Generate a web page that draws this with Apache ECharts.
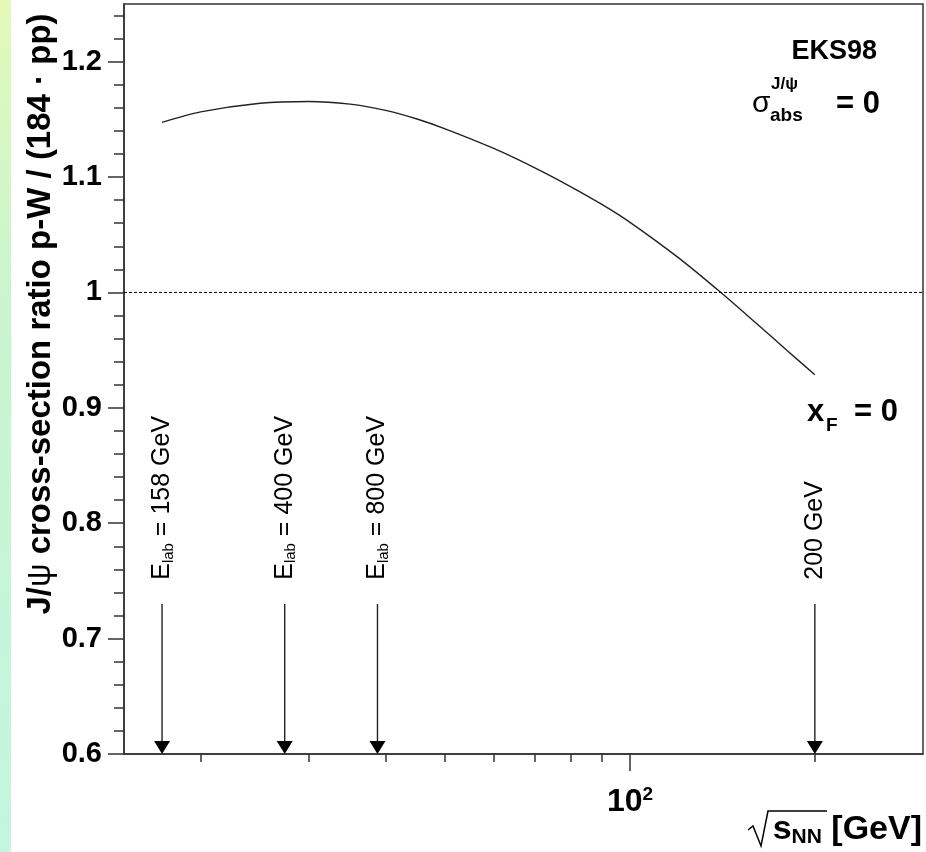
<!DOCTYPE html>
<html>
<head>
<meta charset="utf-8">
<script src="https://cdn.jsdelivr.net/npm/echarts@6/dist/echarts.min.js"></script>
<style>
  html, body { margin: 0; padding: 0; background: #fff; }
  #chart { width: 926px; height: 852px; }
</style>
</head>
<body>
<div id="chart"></div>
<script>
  // sqrt(s_NN) in GeV and the EKS98 ratio
  const curveE = [17.3, 20, 25, 30, 35, 40, 45, 50, 60, 70, 80, 90, 100, 120, 140, 160, 180, 200]
  const curveRatio = [1.1474, 1.1565, 1.1640, 1.1655, 1.1632, 1.1578, 1.1503, 1.1418, 1.1248, 1.1080,
    1.0918, 1.0763, 1.0608, 1.0300, 1.0008, 0.9740, 0.9500, 0.9286]

  // dotted reference line at ratio = 1
  const refE = [15, 300]
  const refRatio = [1, 1]

  // arrows: sqrt(s_NN) for the fixed-target beams and RHIC
  const arrowE = [17.3, 27.4, 38.8, 200]
  const arrowElab = [158, 400, 800, null]
  const arrowTop = 0.73
  const arrowLabelBase = 0.751

  const yTicks = [0.6, 0.7, 0.8, 0.9, 1.0, 1.1, 1.2]
  const yMinorTicks = [0.62, 0.64, 0.66, 0.68, 0.72, 0.74, 0.76, 0.78, 0.82, 0.84, 0.86, 0.88,
    0.92, 0.94, 0.96, 0.98, 1.02, 1.04, 1.06, 1.08, 1.12, 1.14, 1.16, 1.18, 1.22, 1.24]
  const xTicks = [100]
  const xMinorTicks = [20, 30, 40, 50, 60, 70, 80, 90, 200]

  const FONT = 'Liberation Sans, Arial, Helvetica, sans-serif'
  const AXIS = '#333'

  const chart = echarts.init(document.getElementById('chart'))

  chart.setOption({
    animation: false,
    backgroundColor: '#fff',
    textStyle: { fontFamily: FONT },
    grid: {
      left: 124,
      right: 3,
      top: 4,
      bottom: 98,
      show: true,
      borderColor: AXIS,
      borderWidth: 1.5
    },
    xAxis: [{
      type: 'log',
      logBase: 10,
      min: 15,
      max: 300,
      axisLine: { show: true, onZero: false, lineStyle: { color: AXIS, width: 1.5 } },
      axisTick: { show: true, customValues: xTicks, length: 17, lineStyle: { color: AXIS, width: 1.5 } },
      axisLabel: {
        customValues: xTicks,
        margin: 31,
        formatter: v => '{b|10}{sup|' + Math.round(Math.log10(v)) + '}',
        rich: {
          b: { fontSize: 32, fontWeight: 'bold', fontFamily: FONT, color: '#000', lineHeight: 34 },
          sup: { fontSize: 19, fontWeight: 'bold', fontFamily: FONT, color: '#000', lineHeight: 19, verticalAlign: 'top' }
        }
      },
      splitLine: { show: false }
    }, {
      type: 'log',
      logBase: 10,
      min: 15,
      max: 300,
      position: 'bottom',
      axisLine: { show: false },
      axisTick: { show: true, customValues: xMinorTicks, length: 8, lineStyle: { color: AXIS, width: 1.5 } },
      axisLabel: { show: false },
      splitLine: { show: false }
    }],
    yAxis: [{
      type: 'value',
      min: 0.6,
      max: 1.25,
      axisLine: { show: true, onZero: false, lineStyle: { color: AXIS, width: 1.5 } },
      axisTick: { show: true, customValues: yTicks, length: 16, lineStyle: { color: AXIS, width: 1.5 } },
      axisLabel: {
        customValues: yTicks,
        margin: 22,
        fontSize: 29,
        fontWeight: 'bold',
        color: '#000',
        formatter: v => String(+(+v).toFixed(1))
      },
      splitLine: { show: false }
    }, {
      type: 'value',
      min: 0.6,
      max: 1.25,
      position: 'left',
      axisLine: { show: false },
      axisTick: { show: true, customValues: yMinorTicks, length: 10, lineStyle: { color: AXIS, width: 1.5 } },
      axisLabel: { show: false },
      splitLine: { show: false }
    }],
    graphic: [
      {
        type: 'rect',
        left: 0,
        top: 0,
        shape: { width: 11, height: 852 },
        style: {
          fill: new echarts.graphic.LinearGradient(0, 0, 0, 1, [
            { offset: 0, color: '#e3f9b8' },
            { offset: 0.35, color: '#c8f5cf' },
            { offset: 1, color: '#c3f5df' }
          ])
        },
        z: -1
      },
      // y axis title
      {
        type: 'text',
        x: 41,
        y: 314,
        rotation: Math.PI / 2,
        style: {
          text: '{b|J/}{g|ψ}{b| cross-section ratio p-W / (184 · pp)}',
          align: 'center',
          verticalAlign: 'middle',
          rich: {
            b: { fontSize: 33, fontWeight: 'bold', fontFamily: FONT, fill: '#000' },
            g: { fontSize: 33, fontFamily: FONT, fill: '#000' }
          }
        }
      },
      // x axis title: radical sign drawn as a path, text after it
      {
        type: 'polyline',
        shape: { points: [[748, 830], [753, 826], [761, 846], [768, 811], [827, 811]] },
        style: { stroke: '#000', lineWidth: 1.5, fill: null }
      },
      {
        type: 'text',
        x: 922,
        y: 830,
        style: {
          text: '{s|s}{n|NN}{b| [GeV]}',
          align: 'right',
          verticalAlign: 'middle',
          rich: {
            s: { fontSize: 34, fontWeight: 'bold', fontFamily: FONT, fill: '#000', lineHeight: 36 },
            n: { fontSize: 21, fontWeight: 'bold', fontFamily: FONT, fill: '#000', lineHeight: 21, verticalAlign: 'bottom' },
            b: { fontSize: 34, fontWeight: 'bold', fontFamily: FONT, fill: '#000', lineHeight: 36 }
          }
        }
      },
      // EKS98 box text
      {
        type: 'text',
        x: 877,
        y: 52,
        style: { text: 'EKS98', align: 'right', verticalAlign: 'middle', fontSize: 27, fontWeight: 'bold', fontFamily: FONT, fill: '#000' }
      },
      {
        type: 'text',
        x: 752,
        y: 104,
        style: { text: 'σ', align: 'left', verticalAlign: 'middle', fontSize: 30, fontFamily: FONT, fill: '#000' }
      },
      {
        type: 'text',
        x: 771,
        y: 84,
        style: { text: 'J/ψ', align: 'left', verticalAlign: 'middle', fontSize: 17, fontWeight: 'bold', fontFamily: FONT, fill: '#000' }
      },
      {
        type: 'text',
        x: 770,
        y: 116,
        style: { text: 'abs', align: 'left', verticalAlign: 'middle', fontSize: 19, fontWeight: 'bold', fontFamily: FONT, fill: '#000' }
      },
      {
        type: 'text',
        x: 880,
        y: 104,
        style: { text: '= 0', align: 'right', verticalAlign: 'middle', fontSize: 31, fontWeight: 'bold', fontFamily: FONT, fill: '#000' }
      },
      // x_F = 0
      {
        type: 'text',
        x: 807,
        y: 412,
        style: { text: 'x', align: 'left', verticalAlign: 'middle', fontSize: 31, fontWeight: 'bold', fontFamily: FONT, fill: '#000' }
      },
      {
        type: 'text',
        x: 826,
        y: 426,
        style: { text: 'F', align: 'left', verticalAlign: 'middle', fontSize: 19, fontWeight: 'bold', fontFamily: FONT, fill: '#000' }
      },
      {
        type: 'text',
        x: 898,
        y: 412,
        style: { text: '= 0', align: 'right', verticalAlign: 'middle', fontSize: 31, fontWeight: 'bold', fontFamily: FONT, fill: '#000' }
      }
    ],
    series: [{
      name: 'EKS98',
      type: 'line',
      data: curveE.map((e, i) => [e, curveRatio[i]]),
      smooth: 0.3,
      symbol: 'none',
      lineStyle: { color: '#222', width: 1.4 }
    }, {
      name: 'ratio = 1',
      type: 'line',
      data: refE.map((e, i) => [e, refRatio[i]]),
      symbol: 'none',
      lineStyle: { color: '#000', width: 1, type: [3, 2] }
    }, {
      name: 'beams',
      type: 'custom',
      clip: false,
      data: arrowE.map((e, i) => [e, arrowTop, 0.6, i]),
      renderItem: function (params, api) {
        const i = api.value(3)
        const top = api.coord([api.value(0), api.value(1)])
        const bot = api.coord([api.value(0), api.value(2)])
        const lbl = api.coord([api.value(0), arrowLabelBase])
        const text = arrowElab[i] ? '{e|E}{s|lab}{t| = ' + arrowElab[i] + ' GeV}' : '{t|' + arrowE[i] + ' GeV}'
        return {
          type: 'group',
          children: [{
            type: 'line',
            shape: { x1: top[0], y1: top[1], x2: bot[0], y2: bot[1] - 12 },
            style: { stroke: '#222', lineWidth: 1.4 }
          }, {
            type: 'polygon',
            shape: { points: [[bot[0] - 8, bot[1] - 13], [bot[0] + 8, bot[1] - 13], [bot[0], bot[1]]] },
            style: { fill: '#000' }
          }, {
            type: 'text',
            x: lbl[0],
            y: lbl[1],
            rotation: Math.PI / 2,
            style: {
              text: text,
              align: 'left',
              verticalAlign: 'middle',
              rich: {
                e: { fontSize: 25, fontFamily: FONT, fill: '#000', lineHeight: 28 },
                s: { fontSize: 15, fontFamily: FONT, fill: '#000', lineHeight: 15, verticalAlign: 'bottom' },
                t: { fontSize: 25, fontFamily: FONT, fill: '#000', lineHeight: 28 }
              }
            }
          }]
        }
      }
    }]
  })
</script>
</body>
</html>
